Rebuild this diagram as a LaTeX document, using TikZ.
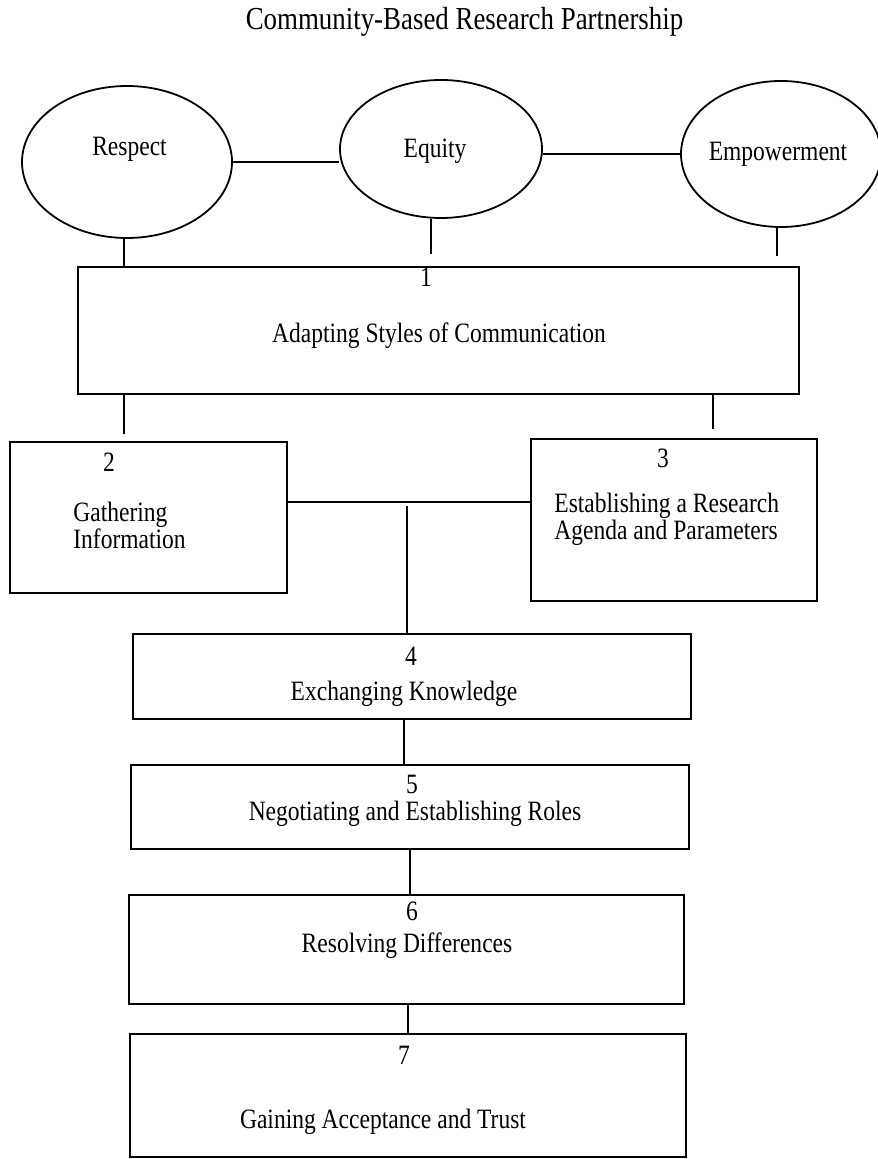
\documentclass[tikz,border=0pt]{standalone}
\usepackage{fontspec}
\setmainfont{Liberation Serif}
\newfontfamily\tallserif[FakeStretch=0.84]{Liberation Serif}
\usepackage{tikz}
\usetikzlibrary{shapes.geometric,calc}
\tikzset{
  value/.style={ellipse,draw,line width=0.9pt,inner sep=0pt},
  stage/.style={rectangle,draw,line width=1.1pt,inner sep=0pt},
  txt/.style={inner sep=0pt,font=\tallserif\fontsize{14}{16}\selectfont}
}

\begin{document}
\begin{tikzpicture}[
  x=0.5pt,y=-0.5pt,
  title/.style={inner sep=0pt,font=\tallserif\fontsize{16}{18}\selectfont},
  link/.style={draw,line width=0.9pt}
]
  \useasboundingbox (0,0) rectangle (877,1159);

  % --- Title ---
  \node[title,anchor=base] (T) at (464.5,30) {Community-Based Research Partnership};

  % --- Core values (ellipses) ---
  \node[value,minimum width=105pt,minimum height=76pt] (R)  at (127,162) {};
  \node[value,minimum width=101pt,minimum height=69pt] (Eq) at (441,149) {};
  \node[value,minimum width=100pt,minimum height=73pt] (Em) at (781,154) {};
  \node[txt,anchor=base] (Rt)  at (129.5,156) {Respect};
  \node[txt,anchor=base] (Eqt) at (435,158)   {Equity};
  \node[txt,anchor=base] (Emt) at (778,161)   {Empowerment};

  % --- Stages (boxes) ---
  \node[stage,minimum width=360.5pt,minimum height=63.5pt] (S1) at (438.5,330.5) {};
  \node[stage,minimum width=138.5pt,minimum height=75.5pt] (S2) at (148.5,517.5) {};
  \node[stage,minimum width=143pt,minimum height=81pt]     (S3) at (674,520)     {};
  \node[stage,minimum width=279pt,minimum height=42.5pt]   (S4) at (412,676.5)   {};
  \node[stage,minimum width=279pt,minimum height=42pt]     (S5) at (410,807)     {};
  \node[stage,minimum width=277.5pt,minimum height=54.5pt] (S6) at (406.5,949.5) {};
  \node[stage,minimum width=278pt,minimum height=61.5pt]   (S7) at (408,1095.5)  {};

  % --- Stage texts ---
  \node[txt,anchor=base] (S1n) at (426,287) {1};
  \node[txt,anchor=base] (S1t) at (439,343) {Adapting Styles of Communication};
  \node[txt,anchor=base] (S2n) at (109,472) {2};
  \node[txt,anchor=base west] (S2t) at (73,521) {Gathering};
  \node[txt,anchor=base west] (S2u) at (73,548) {Information};
  \node[txt,anchor=base] (S3n) at (663,467) {3};
  \node[txt,anchor=base west] (S3t) at (554,512) {Establishing a Research};
  \node[txt,anchor=base west] (S3u) at (554,539) {Agenda and Parameters};
  \node[txt,anchor=base] (S4n) at (411,665)  {4};
  \node[txt,anchor=base] (S4t) at (404,700)  {Exchanging Knowledge};
  \node[txt,anchor=base] (S5n) at (412,793)  {5};
  \node[txt,anchor=base] (S5t) at (415,820)  {Negotiating and Establishing Roles};
  \node[txt,anchor=base] (S6n) at (412,920)  {6};
  \node[txt,anchor=base] (S6t) at (407,952)  {Resolving Differences};
  \node[txt,anchor=base] (S7n) at (404,1064) {7};
  \node[txt,anchor=base] (S7t) at (383,1128) {Gaining Acceptance and Trust};

  % --- Links between values ---
  \draw[link] (R.east) -- (R.east -| Eq.west);
  \draw[link] (Em.west) -- (Em.west -| Eq.east);

  % --- Values down to stage 1 ---
  \draw[link] (R.268)  -- (R.268 |- S1.north);
  \draw[link,shorten >=6pt] (Eq.262) -- (Eq.262 |- S1.north);
  \draw[link,shorten >=5pt] (Em.267) -- (Em.267 |- S1.north);

  % --- Stage 1 down to stages 2 and 3 ---
  \draw[link,shorten <=3.5pt] ([xshift=-12.25pt]S2.north) -- ([xshift=-12.25pt]S2.north |- S1.south);
  \draw[link,shorten <=4.5pt] ([xshift=19.5pt]S3.north) -- ([xshift=19.5pt]S3.north |- S1.south);

  % --- Stages 2 and 3 joined, then down to stage 4 ---
  \draw[link] ([yshift=7.75pt]S2.east) -- ([yshift=7.75pt]S2.east -| S3.west);
  \coordinate (J) at (407,502);
  \draw[link,shorten <=2pt] (J) -- (J |- S4.north);

  % --- Stages 4 to 7 ---
  \draw[link] ([xshift=-4pt]S4.south) -- ([xshift=-4pt]S4.south |- S5.north);
  \draw[link] (S5.south) -- (S5.south |- S6.north);
  \draw[link] ([xshift=0.75pt]S6.south) -- ([xshift=0.75pt]S6.south |- S7.north);
\end{tikzpicture}
\end{document}
